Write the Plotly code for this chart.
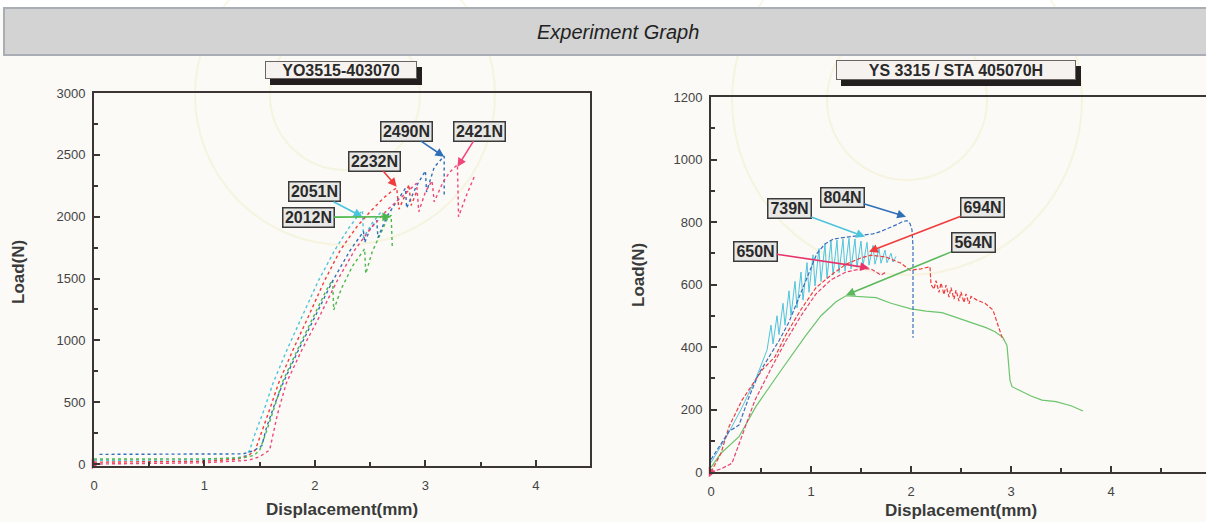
import plotly.graph_objects as go

W, H = 1206, 522

# ---------------- Left chart data: YO3515-403070 ----------------
l_cyan_x = [0.0, 0.5, 1.0, 1.3, 1.38, 1.41, 1.46, 1.54, 1.62, 1.75, 1.88, 2.03, 2.18, 2.3, 2.4, 2.43, 2.44, 2.52, 2.6]
l_cyan_y = [30, 32, 35, 50, 70, 113, 250, 440, 652, 930, 1191, 1480, 1730, 1900, 2020, 2051, 1830, 1950, 2040]

l_red_x = [0.0, 0.5, 1.0, 1.3, 1.4, 1.46, 1.52, 1.59, 1.67, 1.8, 1.94, 2.08, 2.23, 2.38, 2.5, 2.62, 2.7, 2.74, 2.76, 2.82, 2.85, 2.87, 2.92]
l_red_y = [15, 18, 22, 40, 70, 113, 260, 440, 652, 920, 1191, 1470, 1730, 1920, 2040, 2150, 2210, 2232, 2060, 2180, 2260, 2090, 2200]

l_green_x = [0.0, 0.5, 1.0, 1.35, 1.45, 1.5, 1.56, 1.63, 1.7, 1.84, 1.99, 2.1, 2.16, 2.17, 2.24, 2.34, 2.45, 2.46, 2.52, 2.6, 2.66, 2.69, 2.7]
l_green_y = [40, 40, 42, 50, 70, 113, 260, 450, 652, 920, 1191, 1400, 1490, 1245, 1420, 1600, 1740, 1540, 1720, 1880, 1990, 2012, 1760]

l_blue_x = [0.05, 0.5, 1.0, 1.35, 1.45, 1.52, 1.56, 1.63, 1.71, 1.85, 2.0, 2.16, 2.32, 2.44, 2.45, 2.5, 2.56, 2.57, 2.65, 2.76, 2.82, 2.83, 2.92, 3.0, 3.01, 3.08, 3.15, 3.17, 3.17]
l_blue_y = [78, 78, 80, 82, 110, 150, 290, 470, 652, 920, 1191, 1480, 1730, 1880, 1790, 1900, 1970, 1830, 2000, 2150, 2230, 2070, 2250, 2370, 2200, 2400, 2470, 2490, 2160]

l_pink_x = [0.0, 0.5, 1.0, 1.4, 1.5, 1.59, 1.66, 1.74, 1.88, 2.04, 2.2, 2.36, 2.5, 2.65, 2.8, 2.92, 2.94, 3.0, 3.06, 3.08, 3.16, 3.22, 3.29, 3.3, 3.37, 3.45]
l_pink_y = [0, 5, 10, 30, 60, 113, 400, 652, 920, 1191, 1480, 1730, 1900, 2050, 2170, 2270, 2040, 2200, 2290, 2120, 2280, 2360, 2421, 2000, 2170, 2340]

l_peak_labels = ["2490N", "2421N", "2232N", "2051N", "2012N"]
l_peak_x = [3.17, 3.29, 2.74, 2.43, 2.69]
l_peak_y = [2484, 2403, 2242, 1999, 1999]
l_label_x = [2.83, 3.49, 2.54, 2.0, 1.94]
l_label_y = [2690, 2690, 2450, 2200, 1995]
l_label_col = ["#2f6fb8", "#f0467a", "#f03c3c", "#4cc4dc", "#4cb84c"]

# ---------------- Right chart data: YS 3315 / STA 405070H ----------------
r_blue_x = [0.0, 0.1, 0.18, 0.28, 0.38, 0.48, 0.58, 0.68, 0.78, 0.88, 0.98, 1.06, 1.14, 1.22, 1.32, 1.45, 1.54, 1.62, 1.7, 1.78, 1.86, 1.92, 1.96, 1.99, 2.01, 2.02, 2.02]
r_blue_y = [40, 90, 130, 150, 240, 316, 370, 420, 480, 560, 640, 700, 730, 745, 750, 755, 758, 762, 770, 780, 792, 802, 804, 795, 775, 720, 430]

r_cyan_x = [0.0, 0.15, 0.3, 0.45, 0.56,
            0.6, 0.62, 0.66, 0.68, 0.72, 0.74, 0.78, 0.8, 0.84, 0.86,
            0.9, 0.92, 0.96, 0.98, 1.02, 1.04, 1.08, 1.1, 1.14, 1.16,
            1.2, 1.22, 1.26, 1.28, 1.32, 1.34, 1.38, 1.4, 1.44, 1.46,
            1.5, 1.52, 1.56, 1.58, 1.62, 1.64, 1.68, 1.7, 1.74, 1.76,
            1.8, 1.82, 1.85]
r_cyan_y = [30, 110, 200, 300, 390,
            470, 410, 500, 440, 540, 470, 580, 500, 610, 525,
            640, 550, 670, 575, 695, 595, 715, 610, 730, 620,
            740, 630, 742, 638, 745, 643, 748, 650, 746, 655,
            739, 660, 735, 662, 725, 665, 715, 668, 710, 670,
            700, 672, 690]

r_red_x = [0.0, 0.1, 0.18, 0.31, 0.51, 0.64, 0.75, 0.9, 1.05, 1.2, 1.35, 1.5, 1.6, 1.75, 1.9, 1.99, 2.1, 2.19,
           2.2, 2.23, 2.25, 2.28, 2.3, 2.33, 2.35, 2.38, 2.4, 2.43, 2.45, 2.48, 2.5, 2.53, 2.55, 2.58, 2.6,
           2.66, 2.74, 2.82, 2.92]
r_red_y = [0, 60, 145, 230, 326, 369, 440, 520, 590, 630, 665, 685, 694, 688, 668, 646, 650, 657,
           600, 585, 612, 575, 605, 568, 598, 560, 590, 553, 582, 547, 576, 542, 570, 538, 562,
           550, 540, 518, 422]

r_pink_x = [0.0, 0.1, 0.21, 0.33, 0.44, 0.61, 0.75, 0.9, 1.05, 1.2, 1.35, 1.5, 1.6, 1.7, 1.75]
r_pink_y = [0, 10, 28, 134, 230, 337, 420, 500, 570, 615, 640, 650, 650, 630, 640]

r_green_x = [0.0, 0.1, 0.28, 0.45, 0.68, 0.94, 1.1, 1.25, 1.35, 1.5, 1.65, 1.8, 2.0, 2.15, 2.31, 2.45, 2.6, 2.75, 2.84, 2.92, 2.96, 2.99, 3.01, 3.1, 3.2, 3.31, 3.45, 3.6, 3.72]
r_green_y = [15, 60, 113, 210, 316, 433, 500, 545, 564, 562, 558, 540, 522, 515, 510, 495, 478, 462, 449, 430, 405, 294, 273, 258, 243, 230, 225, 212, 195]

r_peak_labels = ["804N", "739N", "650N", "694N", "564N"]
r_peak_x = [1.95, 1.54, 1.58, 1.58, 1.35]
r_peak_y = [817, 753, 653, 705, 566]
r_label_x = [1.31, 0.785, 0.44, 2.715, 2.62]
r_label_y = [880, 842, 707, 845, 733]
r_label_col = ["#2f6fb8", "#4cc4dc", "#e8336a", "#f03c3c", "#5cb85c"]

origin_x = [0]
origin_y = [0]

chart_titles = ["YO3515-403070", "YS 3315 / STA 405070H"]
header_text = "Experiment Graph"
x_title = "Displacement(mm)"
y_title = "Load(N)"

# ---------------- figure ----------------
fig = go.Figure()

def px_x(p):
    return p / W

def px_y(p):
    return 1 - p / H

FONT = "Liberation Sans, Arial, sans-serif"

def add_line(x, y, color, xa, ya, dash, width=1.4):
    fig.add_trace(go.Scatter(x=x, y=y, mode="lines", xaxis=xa, yaxis=ya,
                             line=dict(color=color, width=width, dash=dash),
                             hoverinfo="skip", showlegend=False))

# left chart curves (dotted)
add_line(l_cyan_x, l_cyan_y, "#4cc4dc", "x", "y", "dot")
add_line(l_red_x, l_red_y, "#f03c3c", "x", "y", "dot")
add_line(l_green_x, l_green_y, "#4cb84c", "x", "y", "dot")
add_line(l_blue_x, l_blue_y, "#2f6fb8", "x", "y", "dot")
add_line(l_pink_x, l_pink_y, "#f0467a", "x", "y", "dot")

# right chart curves
add_line(r_cyan_x, r_cyan_y, "#50c4dc", "x2", "y2", "solid", 1.0)
add_line(r_green_x, r_green_y, "#6cc46c", "x2", "y2", "solid", 1.2)
add_line(r_pink_x, r_pink_y, "#e8406e", "x2", "y2", "4px,2px", 1.2)
add_line(r_red_x, r_red_y, "#f03c3c", "x2", "y2", "4px,2px", 1.2)
add_line(r_blue_x, r_blue_y, "#3a6fc0", "x2", "y2", "4px,2px", 1.2)

for xa, ya in (("x", "y"), ("x2", "y2")):
    fig.add_trace(go.Scatter(x=origin_x, y=origin_y, mode="markers", xaxis=xa, yaxis=ya,
                             marker=dict(symbol="triangle-right", size=9, color="#f0406a"),
                             cliponaxis=False, hoverinfo="skip", showlegend=False))

annotations = []

def add_labels(labels, tx, ty, lx, ly, cols, xr, yr, fsize, w, h):
    for t, x, y, ax, ay, c in zip(labels, tx, ty, lx, ly, cols):
        annotations.append(dict(
            x=x, y=y, ax=ax, ay=ay, xref=xr, yref=yr, axref=xr, ayref=yr,
            text=t, showarrow=True, arrowhead=2, arrowsize=1.1, arrowwidth=1.6,
            arrowcolor=c, standoff=0, width=w, height=h,
            font=dict(family=FONT, size=fsize, color="#2a2a2a", weight="bold"),
            bgcolor="#e8e8e6", bordercolor="#3a3a3a", borderwidth=1.5, borderpad=0))

add_labels(l_peak_labels, l_peak_x, l_peak_y, l_label_x, l_label_y, l_label_col, "x", "y", 16, 50, 18)
add_labels(r_peak_labels, r_peak_x, r_peak_y, r_label_x, r_label_y, r_label_col, "x2", "y2", 16, 42, 18)

shapes = [
    dict(type="rect", xref="paper", yref="paper", x0=0, x1=1, y0=px_y(8), y1=1,
         fillcolor="#ffffff", line=dict(width=0), layer="below"),
    dict(type="rect", xref="paper", yref="paper", x0=px_x(4), x1=px_x(1208), y0=px_y(55), y1=px_y(8),
         fillcolor="#d3d3d3", line=dict(color="#a9aeb5", width=2), layer="above"),
]

# chart title boxes with dark drop shadows (shadow as shape, box as annotation)
title_pos = [(341, 70, 152, 18), (956, 70, 240, 20)]
for t, (cx, cy, w, h) in zip(chart_titles, title_pos):
    shapes.append(dict(type="rect", xref="paper", yref="paper",
                       x0=px_x(cx - w / 2 + 5), x1=px_x(cx + w / 2 + 5),
                       y0=px_y(cy + h / 2 + 6), y1=px_y(cy - h / 2 + 6),
                       fillcolor="#231f1f", line=dict(width=0), layer="above"))
    annotations.append(dict(x=px_x(cx), y=px_y(cy), xref="paper", yref="paper",
                            xanchor="center", yanchor="middle",
                            text=t, showarrow=False, width=w - 2, height=h - 2,
                            font=dict(family=FONT, size=16, color="#2a2a2a", weight="bold"),
                            bgcolor="#f6f2ef", borderwidth=1, bordercolor="#6a6464", borderpad=0))

# axis titles
for cx, cy in ((342, 509), (961, 510)):
    annotations.append(dict(x=px_x(cx), y=px_y(cy), xref="paper", yref="paper", text=x_title,
                            xanchor="center", yanchor="middle",
                            showarrow=False, font=dict(family=FONT, size=17, color="#3a3a3a", weight="bold")))
for cx, cy in ((18, 272), (638, 275)):
    annotations.append(dict(x=px_x(cx), y=px_y(cy), xref="paper", yref="paper", text=y_title,
                            xanchor="center", yanchor="middle",
                            textangle=-90, showarrow=False,
                            font=dict(family=FONT, size=17, color="#3a3a3a", weight="bold")))

# header
annotations.append(dict(x=px_x(618), y=px_y(32), xref="paper", yref="paper", text="<i>" + header_text + "</i>",
                        xanchor="center", yanchor="middle",
                        showarrow=False, font=dict(family=FONT, size=20, color="#222222")))

# faint watermark rings from the scanned paper
for cx, cy, r in ((345, 95, 75), (345, 95, 150), (907, 100, 80), (907, 100, 175)):
    shapes.append(dict(type="circle", xref="paper", yref="paper",
                       x0=px_x(cx - r), x1=px_x(cx + r), y0=px_y(cy + r), y1=px_y(cy - r),
                       line=dict(color="rgba(238,232,180,0.35)", width=2), layer="below"))

axis_common = dict(showline=True, linecolor="#3b3535", linewidth=2, mirror=True,
                   showgrid=False, zeroline=False, ticks="inside", tickcolor="#3b3535",
                   ticklen=6, tickwidth=1.5, automargin=False,
                   tickfont=dict(family=FONT, size=13, color="#444444"))

fig.update_layout(
    width=W, height=H, autosize=False,
    margin=dict(l=0, r=0, t=0, b=0, pad=0, autoexpand=False),
    paper_bgcolor="#fbfaf6", plot_bgcolor="rgba(0,0,0,0)",
    showlegend=False,
    xaxis=dict(domain=[px_x(94), px_x(590)], range=[0, 4.49], anchor="y",
               tickvals=[0, 1, 2, 3, 4], ticklabelstandoff=6,
               minor=dict(ticks="inside", dtick=0.5, ticklen=4, tickcolor="#3b3535"), **axis_common),
    yaxis=dict(domain=[px_y(466), px_y(93)], range=[-16, 3000], anchor="x",
               tickvals=[0, 500, 1000, 1500, 2000, 2500, 3000], ticklabelstandoff=4,
               minor=dict(ticks="inside", dtick=250, ticklen=4, tickcolor="#3b3535"), **axis_common),
    xaxis2=dict(domain=[px_x(711), 1.0], range=[0, 4.95], anchor="y2",
                tickvals=[0, 1, 2, 3, 4], ticklabelstandoff=6,
                minor=dict(ticks="inside", dtick=0.5, ticklen=4, tickcolor="#3b3535"), **axis_common),
    yaxis2=dict(domain=[px_y(472), px_y(97)], range=[0, 1200], anchor="x2",
                tickvals=[0, 200, 400, 600, 800, 1000, 1200], ticklabelstandoff=4,
                minor=dict(ticks="inside", dtick=100, ticklen=4, tickcolor="#3b3535"), **axis_common),
    annotations=annotations,
    shapes=shapes,
)

fig.write_html("out.html")
